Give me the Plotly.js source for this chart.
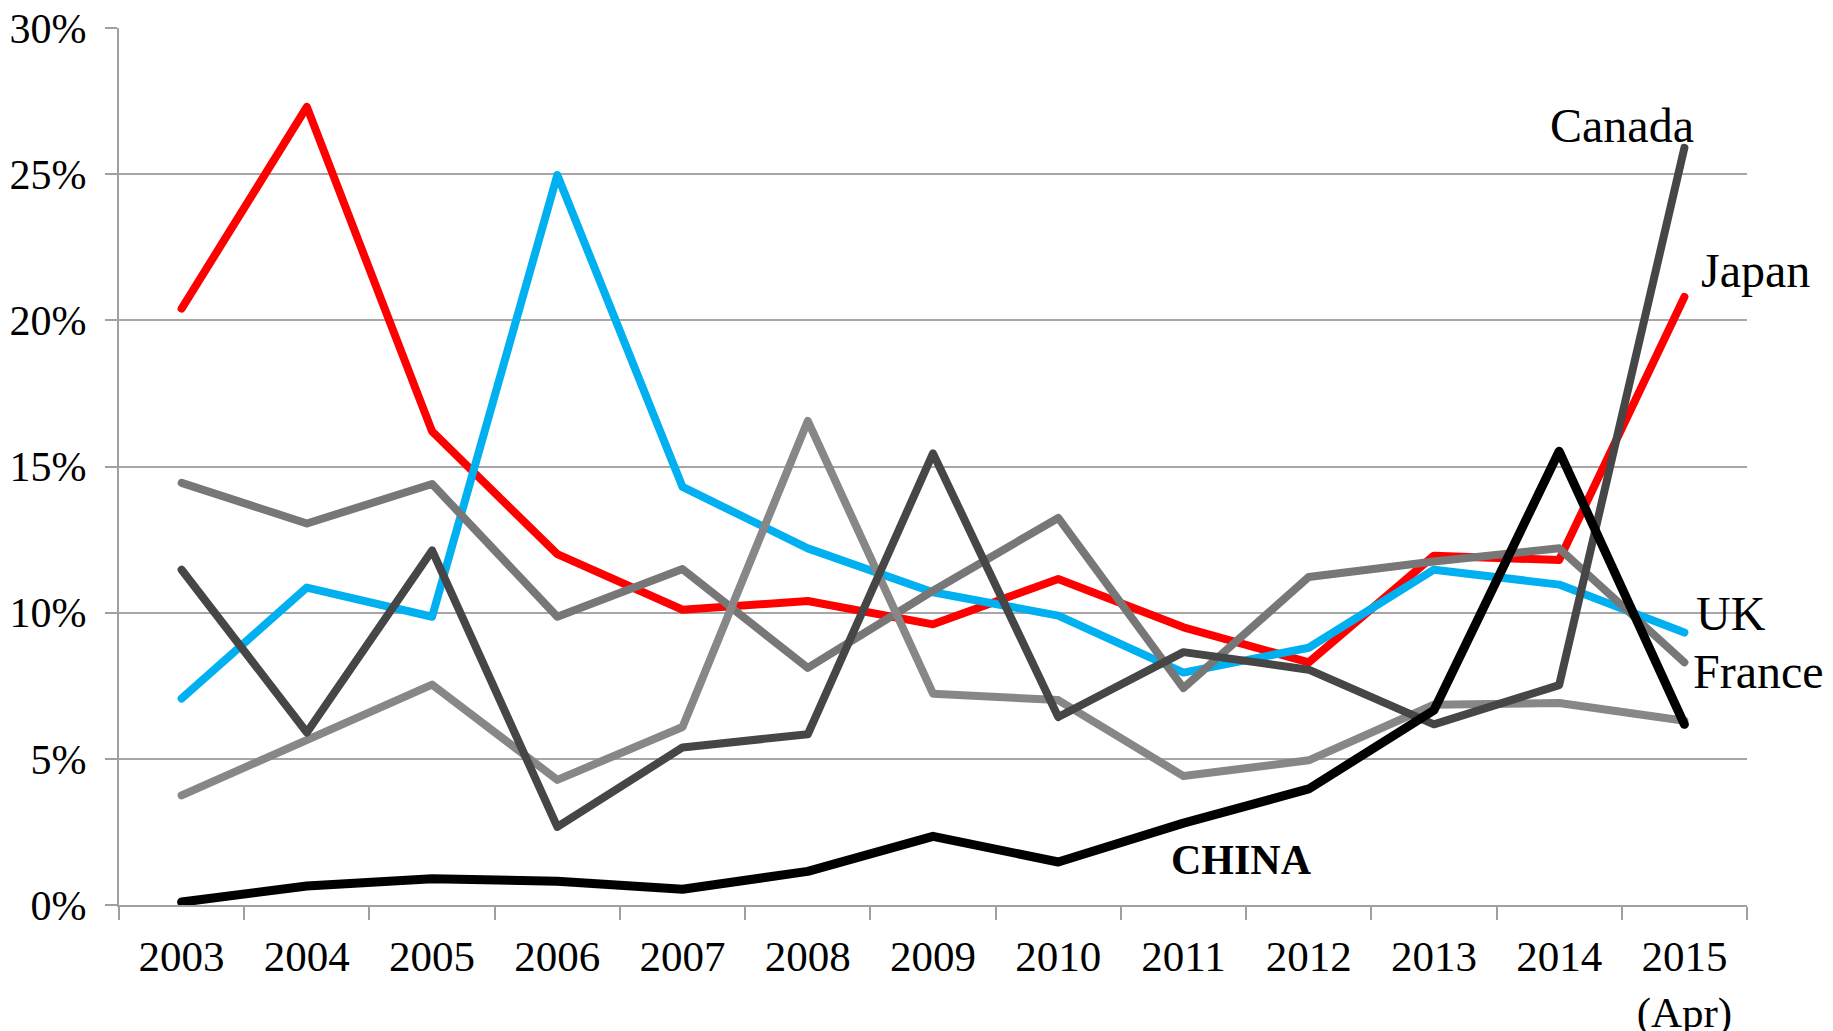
<!DOCTYPE html>
<html>
<head>
<meta charset="utf-8">
<script src="https://cdn.plot.ly/plotly-3.0.1.min.js"></script>
<style>
  html, body { margin: 0; padding: 0; background: #ffffff; }
  #chart { width: 1833px; height: 1031px; }
  #chart .js-line { stroke-linejoin: round; stroke-linecap: round; }
</style>
</head>
<body>
<div id="chart"></div>
<script>
// Category labels
const years = ['2003','2004','2005','2006','2007','2008','2009','2010','2011','2012','2013','2014','2015<br>(Apr)'];

// Series values (percent)
const japan  = [20.4, 27.3, 16.2, 12.0, 10.1, 10.4, 9.6, 11.15, 9.5, 8.3, 11.95, 11.8, 20.8];
const uk     = [7.06, 10.86, 9.86, 24.97, 14.3, 12.2, 10.7, 9.9, 7.95, 8.8, 11.47, 10.96, 9.32];
const france = [14.44, 13.05, 14.4, 9.86, 11.49, 8.11, 10.75, 13.24, 7.42, 11.22, 11.75, 12.2, 8.3];
const other  = [3.75, 5.65, 7.54, 4.28, 6.09, 16.56, 7.23, 7.01, 4.41, 4.95, 6.85, 6.91, 6.3];
const canada = [11.47, 5.9, 12.13, 2.67, 5.39, 5.84, 15.45, 6.43, 8.65, 8.05, 6.18, 7.52, 25.9];
const china  = [0.1, 0.65, 0.9, 0.81, 0.54, 1.15, 2.35, 1.47, 2.8, 3.97, 6.66, 15.52, 6.18];

// Y-axis ticks
const yTickVals   = [0, 5, 10, 15, 20, 25, 30];
const yTickLabels = ['0%', '5%', '10%', '15%', '20%', '25%', '30%'];

function line(name, y, color, width) {
  return {
    type: 'scatter', mode: 'lines', name: name, x: years, y: y,
    line: { color: color, width: width },
    hoverinfo: 'skip', showlegend: false
  };
}

const traces = [
  line('Japan', japan, '#FF0000', 8),
  line('UK', uk, '#00B0F0', 8),
  line('France', france, '#777777', 8),
  line('Other', other, '#878787', 8),
  line('Canada', canada, '#464646', 8),
  line('China', china, '#000000', 9)
];

const fam = 'Liberation Serif, Times New Roman, serif';
const font = { family: fam, size: 42, color: '#000000' };

const layout = {
  width: 1833, height: 1031,
  margin: { l: 119, r: 86, t: 28, b: 126 },
  paper_bgcolor: '#ffffff', plot_bgcolor: '#ffffff',
  font: font,
  showlegend: false,
  xaxis: {
    type: 'category',
    range: [-0.5, years.length - 0.5],
    tickson: 'boundaries',
    ticks: 'outside', ticklen: 13, tickwidth: 2, tickcolor: '#A0A0A0',
    showline: true, linecolor: '#A0A0A0', linewidth: 2,
    showgrid: false, zeroline: false,
    tickfont: { family: fam, size: 43, color: '#000000' },
    ticklabelstandoff: 12,
    fixedrange: true
  },
  yaxis: {
    range: [0, 30],
    tickmode: 'array',
    tickvals: yTickVals,
    ticktext: yTickLabels,
    ticks: 'outside', ticklen: 12, tickwidth: 2, tickcolor: '#A0A0A0',
    showline: true, linecolor: '#A0A0A0', linewidth: 2,
    showgrid: true, gridcolor: '#A6A6A6', gridwidth: 2,
    zeroline: false,
    tickfont: { family: fam, size: 42, color: '#000000' },
    ticklabelstandoff: 10,
    fixedrange: true
  },
  annotations: [
    { text: 'Canada', xref: 'paper', yref: 'y', x: 0.923, y: 26.68, xanchor: 'center', yanchor: 'middle', showarrow: false, font: { family: fam, size: 48, color: '#000' } },
    { text: 'Japan',  xref: 'paper', yref: 'y', x: 1.0055, y: 21.71, xanchor: 'center', yanchor: 'middle', showarrow: false, font: { family: fam, size: 48, color: '#000' } },
    { text: 'UK',     xref: 'paper', yref: 'y', x: 0.99, y: 9.97, xanchor: 'center', yanchor: 'middle', showarrow: false, font: { family: fam, size: 48, color: '#000' } },
    { text: 'France', xref: 'paper', yref: 'y', x: 1.007, y: 7.99, xanchor: 'center', yanchor: 'middle', showarrow: false, font: { family: fam, size: 48, color: '#000' } },
    { text: '<b>CHINA</b>', xref: 'paper', yref: 'y', x: 0.6898, y: 1.54, xanchor: 'center', yanchor: 'middle', showarrow: false, font: { family: fam, size: 42, color: '#000' } }
  ]
};

Plotly.newPlot('chart', traces, layout, { staticPlot: true, displayModeBar: false });
</script>
</body>
</html>
